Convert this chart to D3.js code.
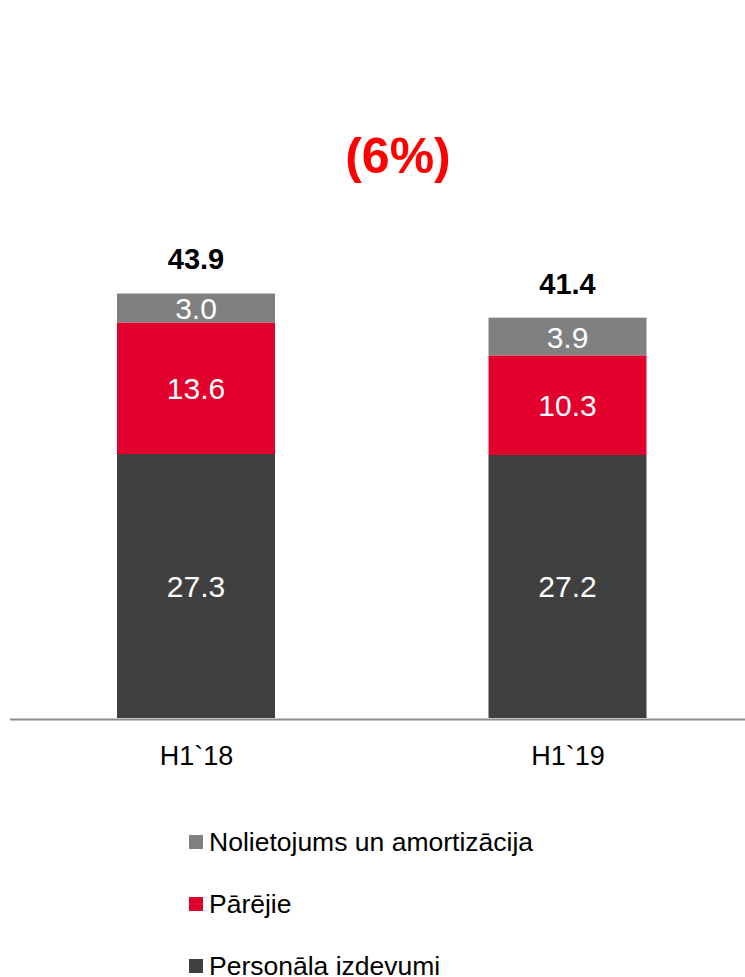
<!DOCTYPE html>
<html>
<head>
<meta charset="utf-8">
<script src="https://cdn.jsdelivr.net/npm/d3@7"></script>
<style>
  html, body { margin: 0; padding: 0; background: #fff; }
  svg { display: block; font-family: "Liberation Sans", Arial, sans-serif; }
</style>
</head>
<body>
<svg id="chart" width="745" height="977"></svg>
<script>
// ---- data ----
const categories = ["H1`18", "H1`19"];
const personala = [27.3, 27.2];
const parejie = [13.6, 10.3];
const nolietojums = [3.0, 3.9];
const totals = [43.9, 41.4];
const seriesNames = ["Personāla izdevumi", "Pārējie", "Nolietojums un amortizācija"];
const seriesColors = ["#404040", "#E2002D", "#808080"];
const legendOrder = [2, 1, 0];
const changeLabel = "(6%)";

// ---- layout ----
const svg = d3.select("#chart");
const baseY = 718;
const barW = 158;

const y = d3.scaleLinear().domain([0, 50]).range([baseY, baseY - 483.5]);
const x = d3.scalePoint().domain(categories).range([196, 567.5]);

const seriesValues = [personala, parejie, nolietojums];
const rows = categories.map((c, i) => {
  const o = { cat: c };
  seriesNames.forEach((s, k) => o[s] = seriesValues[k][i]);
  return o;
});
const stack = d3.stack().keys(seriesNames)(rows);

// bars
stack.forEach((layer, k) => {
  svg.append("g").selectAll("rect").data(layer).join("rect")
    .attr("x", d => x(d.data.cat) - barW / 2)
    .attr("y", d => y(d[1]))
    .attr("width", barW)
    .attr("height", d => y(d[0]) - y(d[1]))
    .attr("fill", seriesColors[k]);
  svg.append("g").selectAll("text").data(layer).join("text")
    .attr("x", d => x(d.data.cat))
    .attr("y", d => (y(d[0]) + y(d[1])) / 2 + 11)
    .attr("text-anchor", "middle")
    .attr("fill", "#fff")
    .attr("font-size", 30)
    .text(d => (d[1] - d[0]).toFixed(1));
});

// axis line
svg.append("line")
  .attr("x1", 10).attr("x2", 745)
  .attr("y1", baseY + 1.5).attr("y2", baseY + 1.5)
  .attr("stroke", "#8c8c8c").attr("stroke-width", 2);

// category labels
const xAxis = svg.append("g").attr("transform", `translate(0,${baseY})`)
  .call(d3.axisBottom(x).tickSize(0).tickPadding(0));
xAxis.select(".domain").remove();
xAxis.selectAll("text")
  .attr("dy", null)
  .attr("y", 47)
  .attr("font-size", 27)
  .attr("font-family", "Liberation Sans, Arial, sans-serif")
  .attr("fill", "#000");

// totals
svg.append("g").selectAll("text").data(totals).join("text")
  .attr("x", (d, i) => x(categories[i]))
  .attr("y", d => y(d) - 24)
  .attr("text-anchor", "middle")
  .attr("font-size", 29)
  .attr("font-weight", "bold")
  .attr("fill", "#000")
  .text(d => d.toFixed(1));

// change label
svg.append("text")
  .attr("x", 398).attr("y", 173)
  .attr("text-anchor", "middle")
  .attr("font-size", 50)
  .attr("font-weight", "bold")
  .attr("fill", "#FF0000")
  .text(changeLabel);

// legend
const lg = svg.append("g").selectAll("g").data(legendOrder).join("g")
  .attr("transform", (d, i) => `translate(189,${842 + i * 62})`);
lg.append("rect")
  .attr("x", 0).attr("y", -7).attr("width", 14).attr("height", 14)
  .attr("fill", d => seriesColors[d]);
lg.append("text")
  .attr("x", 20).attr("y", 9)
  .attr("font-size", 26.5)
  .attr("fill", "#000")
  .text(d => seriesNames[d]);
</script>
</body>
</html>
